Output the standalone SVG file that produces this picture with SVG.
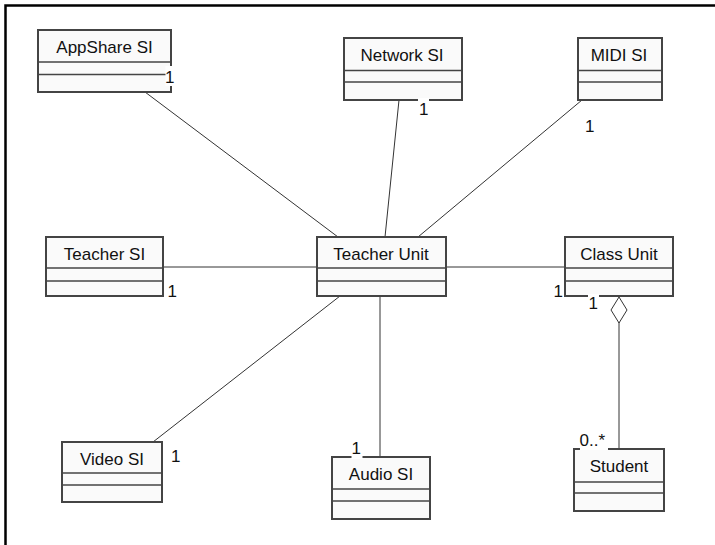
<svg xmlns="http://www.w3.org/2000/svg" width="715" height="545" viewBox="0 0 715 545">
  <style>
    .box { fill: #fafafa; stroke: #444; stroke-width: 2; }
    .div { stroke: #444; stroke-width: 1.5; }
    .name { font-family: "Liberation Sans", Arial, sans-serif; font-size: 17px; fill: #111; text-anchor: middle; }
    .mult { font-family: "Liberation Sans", Arial, sans-serif; font-size: 17px; fill: #111; }
    .conn { stroke: #333; stroke-width: 1; fill: none; }
    .bg { fill: #fff; }
  </style>
  <rect width="715" height="545" fill="#fff"/>
  <!-- outer frame -->
  <path d="M5.5 545 V5.5 H715" fill="none" stroke="#000" stroke-width="2.5"/>

  <g id="connectors">
    <line class="conn" x1="145" y1="92" x2="338" y2="237"/>
    <line class="conn" x1="399" y1="100" x2="385" y2="237"/>
    <line class="conn" x1="582" y1="100" x2="418" y2="237"/>
    <line class="conn" x1="163" y1="267" x2="317" y2="267"/>
    <line class="conn" x1="446" y1="267" x2="565" y2="267"/>
    <line class="conn" x1="153" y1="442" x2="340" y2="296"/>
    <line class="conn" x1="380" y1="296" x2="380" y2="457"/>
    <line class="conn" x1="619" y1="322" x2="619" y2="449"/>
    <polygon points="619,297 627,310 619,323 611,310" fill="#fff" stroke="#333" stroke-width="1"/>
  </g>

  <g id="appshare-si">
    <rect class="box" x="38" y="30" width="133" height="62"/>
    <line class="div" x1="38" y1="62" x2="171" y2="62"/>
    <line class="div" x1="38" y1="74.5" x2="171" y2="74.5"/>
    <text class="name" x="104.5" y="52.5">AppShare SI</text>
  </g>

  <g id="network-si">
    <rect class="box" x="344" y="38" width="118" height="62"/>
    <line class="div" x1="344" y1="70.5" x2="462" y2="70.5"/>
    <line class="div" x1="344" y1="82" x2="462" y2="82"/>
    <text class="name" x="402" y="60.5">Network SI</text>
  </g>

  <g id="midi-si">
    <rect class="box" x="578" y="38" width="84" height="62"/>
    <line class="div" x1="578" y1="70.5" x2="662" y2="70.5"/>
    <line class="div" x1="578" y1="82" x2="662" y2="82"/>
    <text class="name" x="619" y="60.5">MIDI SI</text>
  </g>

  <g id="teacher-si">
    <rect class="box" x="46" y="237" width="117" height="59"/>
    <line class="div" x1="46" y1="268" x2="163" y2="268"/>
    <line class="div" x1="46" y1="281" x2="163" y2="281"/>
    <text class="name" x="104.5" y="260">Teacher SI</text>
  </g>

  <g id="teacher-unit">
    <rect class="box" x="317" y="237" width="129" height="59"/>
    <line class="div" x1="317" y1="268" x2="446" y2="268"/>
    <line class="div" x1="317" y1="281" x2="446" y2="281"/>
    <text class="name" x="381" y="260">Teacher Unit</text>
  </g>

  <g id="class-unit">
    <rect class="box" x="565" y="237" width="108" height="59"/>
    <line class="div" x1="565" y1="268" x2="673" y2="268"/>
    <line class="div" x1="565" y1="281" x2="673" y2="281"/>
    <text class="name" x="619" y="260">Class Unit</text>
  </g>

  <g id="video-si">
    <rect class="box" x="62" y="442" width="100" height="60"/>
    <line class="div" x1="62" y1="473" x2="162" y2="473"/>
    <line class="div" x1="62" y1="485" x2="162" y2="485"/>
    <text class="name" x="112" y="465">Video SI</text>
  </g>

  <g id="audio-si">
    <rect class="box" x="332" y="457" width="98" height="62"/>
    <line class="div" x1="332" y1="489" x2="430" y2="489"/>
    <line class="div" x1="332" y1="501" x2="430" y2="501"/>
    <text class="name" x="381" y="480">Audio SI</text>
  </g>

  <g id="student">
    <rect class="box" x="574" y="449" width="90" height="62"/>
    <line class="div" x1="574" y1="482" x2="664" y2="482"/>
    <line class="div" x1="574" y1="493" x2="664" y2="493"/>
    <text class="name" x="619" y="472">Student</text>
  </g>

  <g id="multiplicities">
    <rect class="bg" x="165.5" y="66" width="7" height="20"/>
    <text class="mult" x="165" y="82.5">1</text>
    <rect class="bg" x="418" y="98" width="11" height="18"/>
    <text class="mult" x="419" y="115">1</text>
    <text class="mult" x="585" y="132">1</text>
    <text class="mult" x="167.5" y="296.5">1</text>
    <text class="mult" x="553.5" y="296.5">1</text>
    <rect class="bg" x="588" y="294" width="11" height="16"/>
    <text class="mult" x="588.5" y="308.5">1</text>
    <text class="mult" x="171" y="462">1</text>
    <rect class="bg" x="351.5" y="441" width="11" height="18"/>
    <text class="mult" x="351.5" y="454">1</text>
    <rect class="bg" x="580" y="432" width="28" height="18"/>
    <text class="mult" x="579.5" y="446">0..*</text>
  </g>
</svg>
